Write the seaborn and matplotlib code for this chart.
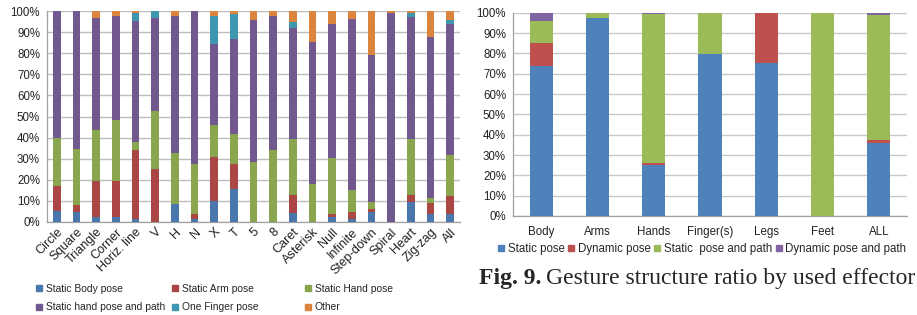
import pandas as pd
import matplotlib.pyplot as plt
import seaborn as sns
from matplotlib.lines import Line2D

# ============ DATA (percent of gestures) =============
gestures = ["Circle", "Square", "Triangle", "Corner", "Horiz. line", "V", "H", "N", "X", "T",
            "5", "8", "Caret", "Asterisk", "Null", "Infinite", "Step-down", "Spiral", "Heart",
            "Zig-zag", "All"]
static_body = [5.4, 4.9, 2.5, 2.5, 1.3, 0, 8.7, 1.3, 10.1, 15.7,
               0, 0, 4.1, 0, 2.5, 1.6, 4.6, 0, 9.7, 4.0, 4.0]
static_arm = [11.5, 3.3, 16.8, 16.8, 33.0, 25.0, 0, 2.7, 20.6, 12.0,
              0, 0, 8.9, 0, 1.5, 3.0, 1.7, 0, 3.3, 5.2, 8.3]
static_hand = [22.7, 26.6, 24.4, 29.0, 3.8, 27.5, 24.2, 23.7, 15.3, 14.2,
               28.5, 34.3, 26.1, 17.9, 26.1, 10.4, 3.4, 0, 26.1, 2.2, 19.3]
hand_path = [60.4, 65.2, 53.1, 49.3, 57.0, 44.0, 64.7, 72.3, 38.2, 44.8,
             67.2, 63.3, 52.8, 67.4, 63.7, 81.0, 69.3, 98.9, 58.1, 76.3, 62.2]
one_finger = [0, 0, 0, 0, 3.8, 3.5, 0, 0, 13.4, 11.9,
              0, 0, 2.9, 0, 0, 0, 0, 0, 1.7, 0, 1.9]
other = [0, 0, 3.2, 2.4, 1.1, 0, 2.4, 0, 2.4, 1.4,
         4.3, 2.4, 5.2, 14.7, 6.2, 4.0, 21.0, 1.1, 1.1, 12.3, 4.3]
left_names = ["Static Body pose", "Static Arm pose", "Static Hand pose",
              "Static hand pose and path", "One Finger pose", "Other"]

effectors = ["Body", "Arms", "Hands", "Finger(s)", "Legs", "Feet", "ALL"]
static_pose = [73.9, 97.5, 25.2, 79.5, 75.1, 0, 36.1]
dynamic_pose = [11.0, 0, 0.7, 0, 24.9, 0, 1.3]
static_pose_path = [11.0, 2.5, 73.3, 20.5, 0, 100, 61.6]
dynamic_pose_path = [4.1, 0, 0.8, 0, 0, 0, 1.0]
right_names = ["Static pose", "Dynamic pose", "Static  pose and path", "Dynamic pose and path"]

# ============ STYLE =============
left_colors = ["#4a77ab", "#aa4643", "#89a54e", "#71588f", "#3f96af", "#db843d"]
right_colors = ["#4f81bd", "#c0504d", "#9bbb59", "#8064a2"]

sns.set_style("white")
plt.rcParams["font.family"] = ["Liberation Sans", "DejaVu Sans"]

W, H = 917, 315


def stacked_bars(ax, cats, series, names, colors, width, grid_color):
    df = pd.DataFrame(dict(zip(names, series)), index=cats)
    cum = df.cumsum(axis=1)
    # draw tallest cumulative first, the lower segments overlay it
    for name, col in reversed(list(zip(names, colors))):
        sns.barplot(x=cats, y=cum[name].values, order=cats, color=col, width=width,
                    saturation=1, linewidth=0, errorbar=None, ax=ax, zorder=3)
    ax.set_ylim(0, 100)
    ax.set_xlim(-0.5, len(cats) - 0.5)
    ax.set_yticks(range(0, 101, 10))
    ax.set_yticklabels([f"{v}%" for v in range(0, 101, 10)])
    ax.yaxis.grid(True, color=grid_color, linewidth=1, zorder=0)
    ax.set_axisbelow(True)
    ax.set_xlabel("")
    ax.set_ylabel("")
    for s in ["top", "right"]:
        ax.spines[s].set_visible(False)
    for s in ["left", "bottom"]:
        ax.spines[s].set_color("#a0a0a0")
        ax.spines[s].set_linewidth(0.9)
    ax.set_xticks([i - 0.5 for i in range(len(cats) + 1)], minor=True)
    ax.tick_params(axis="x", which="major", length=0, pad=3)
    ax.tick_params(axis="x", which="minor", length=4, color="#a0a0a0", width=0.9)
    ax.tick_params(axis="y", length=3, color="#a0a0a0", width=0.9, pad=2)


fig = plt.figure(figsize=(W / 100, H / 100), dpi=100)

# left chart: structure by gesture
ax1 = fig.add_axes([47 / W, 1 - 222 / H, (460 - 47) / W, (222 - 11) / H])
stacked_bars(ax1, gestures,
             [static_body, static_arm, static_hand, hand_path, one_finger, other],
             left_names, left_colors, 0.39, "#bdbdbd")
ax1.tick_params(axis="both", labelsize=8.3, labelcolor="#222222")
for lab in ax1.get_xticklabels():
    lab.set_rotation(45)
    lab.set_ha("right")
    lab.set_rotation_mode("anchor")
    lab.set_fontsize(9)

# left legend: three columns of two rows
col_x = [36, 172, 305]
for c in range(3):
    idx = [c, c + 3]
    handles = [Line2D([], [], marker="s", linestyle="none", markersize=4,
                      markerfacecolor=left_colors[i], markeredgecolor=left_colors[i])
               for i in idx]
    fig.legend(handles, [left_names[i] for i in idx], loc="upper left",
               bbox_to_anchor=(col_x[c] / W, 1 - 284 / H), frameon=False, fontsize=7.4,
               handlelength=0.6, handletextpad=0.35, labelspacing=0.8, borderpad=0,
               borderaxespad=0)

# right chart: structure by effector
ax2 = fig.add_axes([513 / W, 1 - 216 / H, (907 - 513) / W, (216 - 12.7) / H])
stacked_bars(ax2, effectors,
             [static_pose, dynamic_pose, static_pose_path, dynamic_pose_path],
             right_names, right_colors, 0.41, "#c8c8c8")
ax2.tick_params(axis="both", labelsize=8.3, labelcolor="#222222")
ax2.tick_params(axis="x", which="major", pad=7)

handles = [Line2D([], [], marker="s", linestyle="none", markersize=4,
                  markerfacecolor=c, markeredgecolor=c) for c in right_colors]
fig.legend(handles, right_names, loc="center", bbox_to_anchor=(702 / W, 1 - 249 / H),
           ncol=4, frameon=False, fontsize=8.3, handlelength=0.6, handletextpad=0.25,
           columnspacing=0.3, borderpad=0, borderaxespad=0)

# caption, bold prefix followed by regular text (runs past the right edge, as in the source)
fig.canvas.draw()
renderer = fig.canvas.get_renderer()
t1 = fig.text(479 / W, 1 - 284 / H, "Fig. 9.", fontfamily="Liberation Serif",
              fontweight="bold", fontsize=17, va="baseline", ha="left")
bb = t1.get_window_extent(renderer)
fig.text(bb.x1 / W + 5 / W, 1 - 284 / H, "Gesture structure ratio by used effector",
         fontfamily="Liberation Serif", fontsize=17, va="baseline", ha="left")

fig.savefig("out.png", dpi=100)
plt.close(fig)
